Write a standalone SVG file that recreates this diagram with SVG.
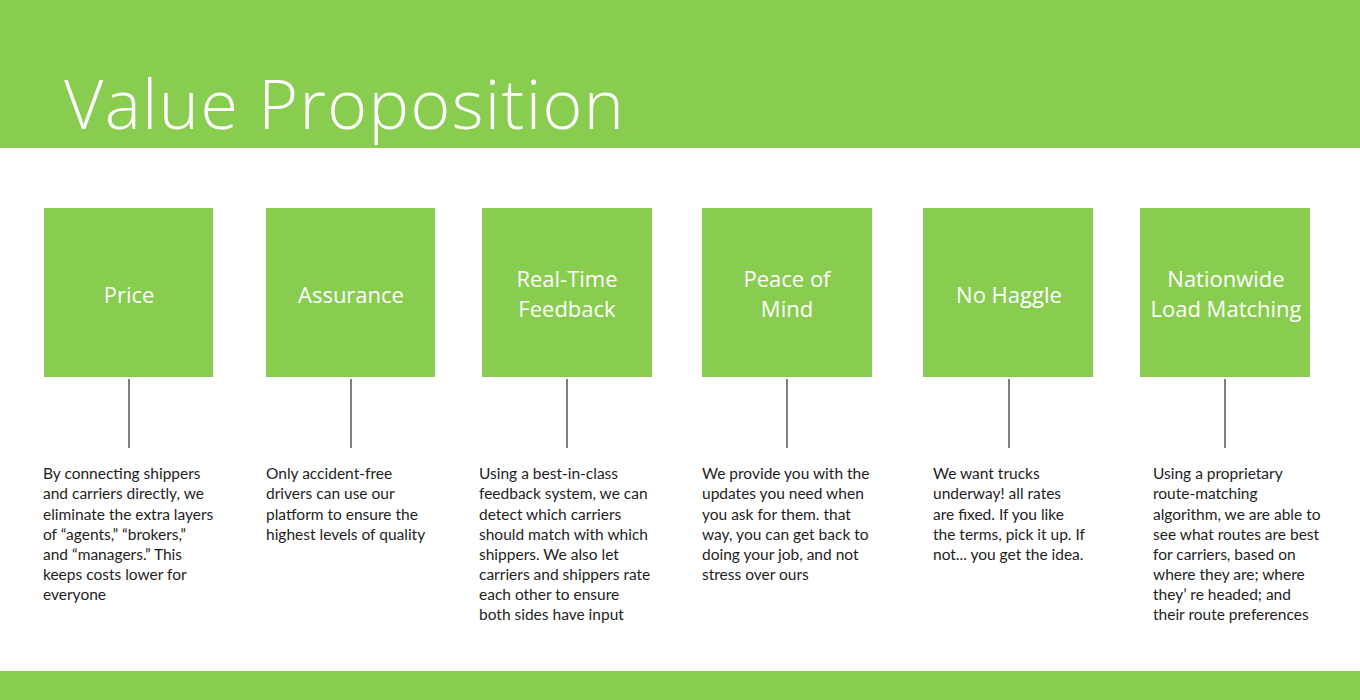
<svg xmlns="http://www.w3.org/2000/svg" width="1360" height="700" viewBox="0 0 1360 700">
  <style>
    .band { fill: #88CD4F; }
    .title { font-family: "Open Sans", "Liberation Sans", sans-serif; font-weight: 300; font-size: 68px; letter-spacing: 1.4px; fill: #ffffff; }
    .box { fill: #88CD4F; }
    .label { font-family: "Open Sans", "Liberation Sans", sans-serif; font-size: 22px; fill: #ffffff; text-anchor: middle; }
    .desc { font-family: "Lato", "Liberation Sans", sans-serif; font-size: 15.5px; fill: #1e1e1e; }
    .link { stroke: #555555; stroke-width: 1.5; fill: none; }
  </style>

  <!-- header and footer bands -->
  <rect class="band" x="0" y="0" width="1360" height="148"/>
  <text class="title" x="64" y="129">Value Proposition</text>
  <rect class="band" x="0" y="671" width="1360" height="29"/>

  <!-- connectors from each box down to its description -->
  <g id="connectors">
    <line class="link" x1="129" y1="379" x2="129" y2="448"/>
    <line class="link" x1="351" y1="379" x2="351" y2="448"/>
    <line class="link" x1="567" y1="379" x2="567" y2="448"/>
    <line class="link" x1="787" y1="379" x2="787" y2="448"/>
    <line class="link" x1="1009" y1="379" x2="1009" y2="448"/>
    <line class="link" x1="1225" y1="379" x2="1225" y2="448"/>
  </g>

  <g id="price">
    <rect class="box" x="44" y="208" width="169" height="169"/>
    <text class="label" x="129" y="303">Price</text>
    <text class="desc">
      <tspan x="43" y="479">By connecting shippers</tspan>
      <tspan x="43" y="499">and carriers directly, we</tspan>
      <tspan x="43" y="520">eliminate the extra layers</tspan>
      <tspan x="43" y="540">of “agents,” “brokers,”</tspan>
      <tspan x="43" y="560">and “managers.” This</tspan>
      <tspan x="43" y="580">keeps costs lower for</tspan>
      <tspan x="43" y="600">everyone</tspan>
    </text>
  </g>

  <g id="assurance">
    <rect class="box" x="266" y="208" width="169" height="169"/>
    <text class="label" x="351" y="303">Assurance</text>
    <text class="desc">
      <tspan x="266" y="479">Only accident-free</tspan>
      <tspan x="266" y="499">drivers can use our</tspan>
      <tspan x="266" y="520">platform to ensure the</tspan>
      <tspan x="266" y="540">highest levels of quality</tspan>
    </text>
  </g>

  <g id="realtime-feedback">
    <rect class="box" x="482" y="208" width="170" height="169"/>
    <text class="label" x="567" y="287">Real-Time</text>
    <text class="label" x="567" y="317">Feedback</text>
    <text class="desc">
      <tspan x="479" y="479">Using a best-in-class</tspan>
      <tspan x="479" y="499">feedback system, we can</tspan>
      <tspan x="479" y="520">detect which carriers</tspan>
      <tspan x="479" y="540">should match with which</tspan>
      <tspan x="479" y="560">shippers. We also let</tspan>
      <tspan x="479" y="580">carriers and shippers rate</tspan>
      <tspan x="479" y="600">each other to ensure</tspan>
      <tspan x="479" y="620">both sides have input</tspan>
    </text>
  </g>

  <g id="peace-of-mind">
    <rect class="box" x="702" y="208" width="170" height="169"/>
    <text class="label" x="787" y="287">Peace of</text>
    <text class="label" x="787" y="317">Mind</text>
    <text class="desc">
      <tspan x="702" y="479">We provide you with the</tspan>
      <tspan x="702" y="499">updates you need when</tspan>
      <tspan x="702" y="520">you ask for them. that</tspan>
      <tspan x="702" y="540">way, you can get back to</tspan>
      <tspan x="702" y="560">doing your job, and not</tspan>
      <tspan x="702" y="580">stress over ours</tspan>
    </text>
  </g>

  <g id="no-haggle">
    <rect class="box" x="923" y="208" width="170" height="169"/>
    <text class="label" x="1009" y="303">No Haggle</text>
    <text class="desc">
      <tspan x="933" y="479">We want trucks</tspan>
      <tspan x="933" y="499">underway! all rates</tspan>
      <tspan x="933" y="520">are fixed. If you like</tspan>
      <tspan x="933" y="540">the terms, pick it up. If</tspan>
      <tspan x="933" y="560">not... you get the idea.</tspan>
    </text>
  </g>

  <g id="nationwide-load-matching">
    <rect class="box" x="1140" y="208" width="170" height="169"/>
    <text class="label" x="1226" y="287">Nationwide</text>
    <text class="label" x="1226" y="317">Load Matching</text>
    <text class="desc">
      <tspan x="1153" y="479">Using a proprietary</tspan>
      <tspan x="1153" y="499">route-matching</tspan>
      <tspan x="1153" y="520">algorithm, we are able to</tspan>
      <tspan x="1153" y="540">see what routes are best</tspan>
      <tspan x="1153" y="560">for carriers, based on</tspan>
      <tspan x="1153" y="580">where they are; where</tspan>
      <tspan x="1153" y="600">they’ re headed; and</tspan>
      <tspan x="1153" y="620">their route preferences</tspan>
    </text>
  </g>
</svg>
